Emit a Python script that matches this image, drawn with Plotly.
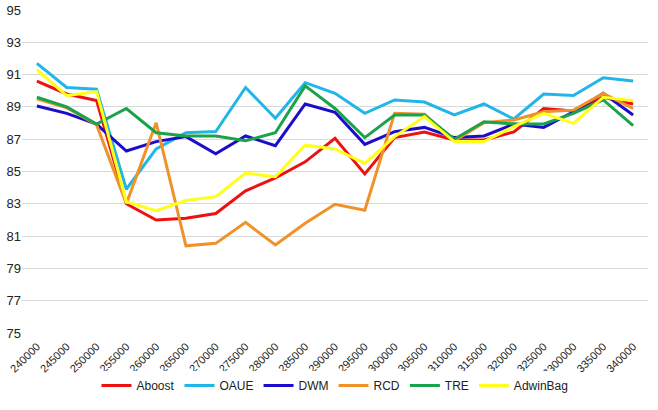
import plotly.graph_objects as go

categories = ["240000", "245000", "250000", "255000", "260000", "265000", "270000",
              "275000", "280000", "285000", "290000", "295000", "300000", "305000",
              "310000", "315000", "320000", "325000", "3300000", "335000", "340000"]

aboost = [90.6, 89.8, 89.4, 83.0, 82.0, 82.1, 82.4, 83.8, 84.6, 85.6, 87.06, 84.85,
          87.1, 87.45, 86.95, 86.95, 87.45, 88.9, 88.75, 89.6, 89.18]
oaue = [91.7, 90.2, 90.1, 83.9, 86.4, 87.4, 87.47, 90.2, 88.3, 90.5, 89.84, 88.6,
        89.43, 89.3, 88.5, 89.18, 88.25, 89.8, 89.7, 90.8, 90.6]
dwm = [89.06, 88.6, 87.94, 86.27, 86.85, 87.16, 86.1, 87.2, 86.6, 89.18, 88.67, 86.68,
       87.47, 87.73, 87.1, 87.2, 87.94, 87.73, 88.7, 89.84, 88.5]
rcd = [89.5, 88.95, 87.9, 83.0, 88.02, 80.4, 80.55, 81.85, 80.45, 81.8, 82.97, 82.6,
       88.6, 88.54, 86.9, 88.02, 88.19, 88.7, 88.8, 89.84, 88.9]
tre = [89.6, 89.0, 87.94, 88.9, 87.4, 87.2, 87.2, 86.9, 87.4, 90.3, 88.9, 87.1,
       88.5, 88.5, 87.0, 88.08, 87.94, 87.94, 88.6, 89.43, 87.84]
adwinbag = [91.3, 89.7, 89.95, 83.13, 82.57, 83.2, 83.44, 84.9, 84.68, 86.64, 86.4, 85.5,
            87.16, 88.4, 86.85, 86.85, 87.78, 88.6, 87.98, 89.6, 89.38]

y_ticks = [75, 77, 79, 81, 83, 85, 87, 89, 91, 93, 95]

series = [
    ("Aboost", aboost, "#EE1111"),
    ("OAUE", oaue, "#22B5E8"),
    ("DWM", dwm, "#1C0DCC"),
    ("RCD", rcd, "#F0922A"),
    ("TRE", tre, "#1AA34A"),
    ("AdwinBag", adwinbag, "#FFFF1A"),
]

FONT = "Liberation Sans, Arial, sans-serif"

fig = go.Figure()
for name, vals, color in series:
    fig.add_trace(go.Scatter(x=categories, y=vals, mode="lines", name=name,
                             line=dict(color=color, width=3)))

fig.update_layout(
    width=658, height=410,
    margin=dict(l=22, r=10, t=10, b=77),
    paper_bgcolor="white", plot_bgcolor="white",
    font=dict(family=FONT, color="#222222"),
    showlegend=True,
    legend=dict(orientation="h", x=0.5, xanchor="center", yref="container",
                y=0.06, yanchor="middle", font=dict(size=12),
                itemwidth=30, tracegroupgap=0),
)
fig.update_xaxes(type="category", range=[-0.5, 20.5], tickangle=-45,
                 tickfont=dict(size=11), showgrid=False, showline=False,
                 ticks="", zeroline=False, automargin=False, ticklabelstandoff=4)
fig.update_yaxes(range=[75, 95], tickvals=y_ticks, ticktext=[str(v) for v in y_ticks],
                 tickfont=dict(size=13), showgrid=True, gridcolor="#D9D9D9",
                 gridwidth=1, zeroline=False, showline=False, ticks="",
                 automargin=False)

fig.write_html("out.html")
